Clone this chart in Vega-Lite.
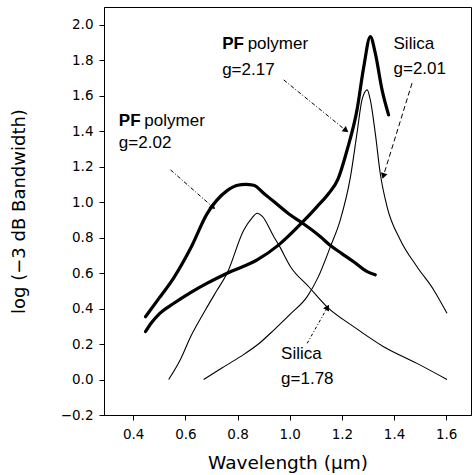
{
  "$schema": "https://vega.github.io/schema/vega-lite/v6.json",
  "autosize": {"type": "none"},
  "width": 367,
  "height": 408,
  "padding": {"left": 104, "top": 7, "right": 1, "bottom": 60},
  "background": "white",
  "config": {
    "view": {"stroke": "black", "strokeWidth": 1},
    "font": "DejaVu Sans",
    "axis": {
      "domainColor": "black", "tickColor": "black", "labelColor": "black", "titleColor": "black",
      "grid": false, "ticks": true, "domain": true,
      "labelFont": "DejaVu Sans", "labelFontSize": 13.5, "labelOverlap": false,
      "titleFont": "DejaVu Sans", "titleFontWeight": "normal"
    },
    "axisX": {"labelPadding": 7, "titleFontSize": 18.5, "titlePadding": 13},
    "axisY": {"labelPadding": 6, "titleFontSize": 18, "titlePadding": 32}
  },
  "datasets": {
    "curves": [
      {"fiber": "PF polymer", "series": "PF polymer g=2.02", "wl": 0.447, "bw": 0.354},
      {"fiber": "PF polymer", "series": "PF polymer g=2.02", "wl": 0.50, "bw": 0.46},
      {"fiber": "PF polymer", "series": "PF polymer g=2.02", "wl": 0.556, "bw": 0.575},
      {"fiber": "PF polymer", "series": "PF polymer g=2.02", "wl": 0.62, "bw": 0.74},
      {"fiber": "PF polymer", "series": "PF polymer g=2.02", "wl": 0.684, "bw": 0.937},
      {"fiber": "PF polymer", "series": "PF polymer g=2.02", "wl": 0.72, "bw": 1.01},
      {"fiber": "PF polymer", "series": "PF polymer g=2.02", "wl": 0.76, "bw": 1.065},
      {"fiber": "PF polymer", "series": "PF polymer g=2.02", "wl": 0.80, "bw": 1.095},
      {"fiber": "PF polymer", "series": "PF polymer g=2.02", "wl": 0.83, "bw": 1.10},
      {"fiber": "PF polymer", "series": "PF polymer g=2.02", "wl": 0.862, "bw": 1.095},
      {"fiber": "PF polymer", "series": "PF polymer g=2.02", "wl": 0.90, "bw": 1.05},
      {"fiber": "PF polymer", "series": "PF polymer g=2.02", "wl": 0.939, "bw": 1.003},
      {"fiber": "PF polymer", "series": "PF polymer g=2.02", "wl": 1.0, "bw": 0.93},
      {"fiber": "PF polymer", "series": "PF polymer g=2.02", "wl": 1.047, "bw": 0.884},
      {"fiber": "PF polymer", "series": "PF polymer g=2.02", "wl": 1.118, "bw": 0.805},
      {"fiber": "PF polymer", "series": "PF polymer g=2.02", "wl": 1.156, "bw": 0.755},
      {"fiber": "PF polymer", "series": "PF polymer g=2.02", "wl": 1.20, "bw": 0.71},
      {"fiber": "PF polymer", "series": "PF polymer g=2.02", "wl": 1.245, "bw": 0.664},
      {"fiber": "PF polymer", "series": "PF polymer g=2.02", "wl": 1.297, "bw": 0.608},
      {"fiber": "PF polymer", "series": "PF polymer g=2.02", "wl": 1.328, "bw": 0.59},
      {"fiber": "PF polymer", "series": "PF polymer g=2.17", "wl": 0.447, "bw": 0.27},
      {"fiber": "PF polymer", "series": "PF polymer g=2.17", "wl": 0.47, "bw": 0.32},
      {"fiber": "PF polymer", "series": "PF polymer g=2.17", "wl": 0.50, "bw": 0.37},
      {"fiber": "PF polymer", "series": "PF polymer g=2.17", "wl": 0.556, "bw": 0.43},
      {"fiber": "PF polymer", "series": "PF polymer g=2.17", "wl": 0.62, "bw": 0.49},
      {"fiber": "PF polymer", "series": "PF polymer g=2.17", "wl": 0.684, "bw": 0.543},
      {"fiber": "PF polymer", "series": "PF polymer g=2.17", "wl": 0.76, "bw": 0.599},
      {"fiber": "PF polymer", "series": "PF polymer g=2.17", "wl": 0.875, "bw": 0.674},
      {"fiber": "PF polymer", "series": "PF polymer g=2.17", "wl": 0.958, "bw": 0.759},
      {"fiber": "PF polymer", "series": "PF polymer g=2.17", "wl": 1.047, "bw": 0.884},
      {"fiber": "PF polymer", "series": "PF polymer g=2.17", "wl": 1.105, "bw": 0.975},
      {"fiber": "PF polymer", "series": "PF polymer g=2.17", "wl": 1.15, "bw": 1.05},
      {"fiber": "PF polymer", "series": "PF polymer g=2.17", "wl": 1.185, "bw": 1.13},
      {"fiber": "PF polymer", "series": "PF polymer g=2.17", "wl": 1.22, "bw": 1.294},
      {"fiber": "PF polymer", "series": "PF polymer g=2.17", "wl": 1.258, "bw": 1.52},
      {"fiber": "PF polymer", "series": "PF polymer g=2.17", "wl": 1.284, "bw": 1.764},
      {"fiber": "PF polymer", "series": "PF polymer g=2.17", "wl": 1.309, "bw": 1.933},
      {"fiber": "PF polymer", "series": "PF polymer g=2.17", "wl": 1.328, "bw": 1.84},
      {"fiber": "PF polymer", "series": "PF polymer g=2.17", "wl": 1.354, "bw": 1.633},
      {"fiber": "PF polymer", "series": "PF polymer g=2.17", "wl": 1.379, "bw": 1.492},
      {"fiber": "Silica", "series": "Silica g=1.78", "wl": 0.536, "bw": 0.0},
      {"fiber": "Silica", "series": "Silica g=1.78", "wl": 0.58, "bw": 0.11},
      {"fiber": "Silica", "series": "Silica g=1.78", "wl": 0.62, "bw": 0.241},
      {"fiber": "Silica", "series": "Silica g=1.78", "wl": 0.68, "bw": 0.40},
      {"fiber": "Silica", "series": "Silica g=1.78", "wl": 0.72, "bw": 0.50},
      {"fiber": "Silica", "series": "Silica g=1.78", "wl": 0.76, "bw": 0.599},
      {"fiber": "Silica", "series": "Silica g=1.78", "wl": 0.824, "bw": 0.843},
      {"fiber": "Silica", "series": "Silica g=1.78", "wl": 0.855, "bw": 0.91},
      {"fiber": "Silica", "series": "Silica g=1.78", "wl": 0.875, "bw": 0.937},
      {"fiber": "Silica", "series": "Silica g=1.78", "wl": 0.895, "bw": 0.92},
      {"fiber": "Silica", "series": "Silica g=1.78", "wl": 0.939, "bw": 0.805},
      {"fiber": "Silica", "series": "Silica g=1.78", "wl": 0.958, "bw": 0.759},
      {"fiber": "Silica", "series": "Silica g=1.78", "wl": 1.003, "bw": 0.636},
      {"fiber": "Silica", "series": "Silica g=1.78", "wl": 1.073, "bw": 0.523},
      {"fiber": "Silica", "series": "Silica g=1.78", "wl": 1.143, "bw": 0.41},
      {"fiber": "Silica", "series": "Silica g=1.78", "wl": 1.245, "bw": 0.298},
      {"fiber": "Silica", "series": "Silica g=1.78", "wl": 1.36, "bw": 0.185},
      {"fiber": "Silica", "series": "Silica g=1.78", "wl": 1.488, "bw": 0.091},
      {"fiber": "Silica", "series": "Silica g=1.78", "wl": 1.603, "bw": 0.0},
      {"fiber": "Silica", "series": "Silica g=2.01", "wl": 0.67, "bw": 0.0},
      {"fiber": "Silica", "series": "Silica g=2.01", "wl": 0.74, "bw": 0.065},
      {"fiber": "Silica", "series": "Silica g=2.01", "wl": 0.811, "bw": 0.129},
      {"fiber": "Silica", "series": "Silica g=2.01", "wl": 0.88, "bw": 0.20},
      {"fiber": "Silica", "series": "Silica g=2.01", "wl": 0.939, "bw": 0.279},
      {"fiber": "Silica", "series": "Silica g=2.01", "wl": 1.003, "bw": 0.37},
      {"fiber": "Silica", "series": "Silica g=2.01", "wl": 1.067, "bw": 0.467},
      {"fiber": "Silica", "series": "Silica g=2.01", "wl": 1.11, "bw": 0.58},
      {"fiber": "Silica", "series": "Silica g=2.01", "wl": 1.156, "bw": 0.749},
      {"fiber": "Silica", "series": "Silica g=2.01", "wl": 1.194, "bw": 0.90},
      {"fiber": "Silica", "series": "Silica g=2.01", "wl": 1.233, "bw": 1.144},
      {"fiber": "Silica", "series": "Silica g=2.01", "wl": 1.258, "bw": 1.389},
      {"fiber": "Silica", "series": "Silica g=2.01", "wl": 1.277, "bw": 1.576},
      {"fiber": "Silica", "series": "Silica g=2.01", "wl": 1.297, "bw": 1.633},
      {"fiber": "Silica", "series": "Silica g=2.01", "wl": 1.309, "bw": 1.576},
      {"fiber": "Silica", "series": "Silica g=2.01", "wl": 1.328, "bw": 1.389},
      {"fiber": "Silica", "series": "Silica g=2.01", "wl": 1.347, "bw": 1.163},
      {"fiber": "Silica", "series": "Silica g=2.01", "wl": 1.373, "bw": 0.975},
      {"fiber": "Silica", "series": "Silica g=2.01", "wl": 1.424, "bw": 0.787},
      {"fiber": "Silica", "series": "Silica g=2.01", "wl": 1.488, "bw": 0.636},
      {"fiber": "Silica", "series": "Silica g=2.01", "wl": 1.552, "bw": 0.505},
      {"fiber": "Silica", "series": "Silica g=2.01", "wl": 1.603, "bw": 0.373}
    ],
    "labels": [
      {"label": "g=2.02", "wl": 0.345, "bw": 1.307},
      {"label": "g=2.17", "wl": 0.741, "bw": 1.717},
      {"label": "Silica", "wl": 1.398, "bw": 1.862},
      {"label": "g=2.01", "wl": 1.398, "bw": 1.722},
      {"label": "Silica", "wl": 0.967, "bw": 0.115},
      {"label": "g=1.78", "wl": 0.967, "bw": -0.025}
    ],
    "pf": [
      {"wl": 0.345, "bw": 1.431},
      {"wl": 0.741, "bw": 1.862}
    ],
    "arrows": [
      {"arrow": "a1", "pt": 0, "wl": 0.543, "bw": 1.182},
      {"arrow": "a1", "pt": 1, "wl": 0.703, "bw": 0.975},
      {"arrow": "a2", "pt": 0, "wl": 0.977, "bw": 1.689},
      {"arrow": "a2", "pt": 1, "wl": 1.213, "bw": 1.407},
      {"arrow": "a3", "pt": 0, "wl": 1.469, "bw": 1.671},
      {"arrow": "a3", "pt": 1, "wl": 1.36, "bw": 1.152},
      {"arrow": "a4", "pt": 0, "wl": 1.067, "bw": 0.204},
      {"arrow": "a4", "pt": 1, "wl": 1.143, "bw": 0.402}
    ],
    "xmajor": [{"wl": 0.4}, {"wl": 0.6}, {"wl": 0.8}, {"wl": 1.0}, {"wl": 1.2}, {"wl": 1.4}, {"wl": 1.6}],
    "xminor": [{"wl": 0.5}, {"wl": 0.7}, {"wl": 0.9}, {"wl": 1.1}, {"wl": 1.3}, {"wl": 1.5}],
    "ymajor": [{"bw": -0.2}, {"bw": 0.0}, {"bw": 0.2}, {"bw": 0.4}, {"bw": 0.6}, {"bw": 0.8}, {"bw": 1.0}, {"bw": 1.2}, {"bw": 1.4}, {"bw": 1.6}, {"bw": 1.8}, {"bw": 2.0}],
    "yminor": [{"bw": -0.1}, {"bw": 0.1}, {"bw": 0.3}, {"bw": 0.5}, {"bw": 0.7}, {"bw": 0.9}, {"bw": 1.1}, {"bw": 1.3}, {"bw": 1.5}, {"bw": 1.7}, {"bw": 1.9}]
  },
  "encoding": {
    "x": {
      "field": "wl", "type": "quantitative",
      "scale": {"domain": [0.288, 1.695], "nice": false, "zero": false},
      "axis": {"title": "Wavelength (μm)", "values": [0.4, 0.6, 0.8, 1.0, 1.2, 1.4, 1.6], "format": ".1f", "tickSize": 5}
    },
    "y": {
      "field": "bw", "type": "quantitative",
      "scale": {"domain": [-0.2, 2.1], "nice": false, "zero": false},
      "axis": {"title": "log (−3 dB Bandwidth)", "values": [-0.2, 0.0, 0.2, 0.4, 0.6, 0.8, 1.0, 1.2, 1.4, 1.6, 1.8, 2.0], "format": ".1f", "tickSize": 5}
    }
  },
  "layer": [
    {
      "data": {"name": "xmajor"},
      "mark": {"type": "tick", "orient": "vertical", "color": "black", "opacity": 1, "size": 5, "thickness": 1, "yOffset": 2.5},
      "encoding": {"y": {"datum": -0.2, "type": "quantitative"}}
    },
    {
      "data": {"name": "xminor"},
      "mark": {"type": "tick", "orient": "vertical", "color": "black", "opacity": 1, "size": 3, "thickness": 1, "yOffset": 1.5},
      "encoding": {"y": {"datum": -0.2, "type": "quantitative"}}
    },
    {
      "data": {"name": "xmajor"},
      "mark": {"type": "tick", "orient": "vertical", "color": "black", "opacity": 1, "size": 5, "thickness": 1, "yOffset": 2.5},
      "encoding": {"y": {"datum": 2.1, "type": "quantitative"}}
    },
    {
      "data": {"name": "ymajor"},
      "mark": {"type": "tick", "orient": "horizontal", "color": "black", "opacity": 1, "size": 5, "thickness": 1, "xOffset": -2.5},
      "encoding": {"x": {"datum": 0.288, "type": "quantitative"}}
    },
    {
      "data": {"name": "yminor"},
      "mark": {"type": "tick", "orient": "horizontal", "color": "black", "opacity": 1, "size": 3, "thickness": 1, "xOffset": -1.5},
      "encoding": {"x": {"datum": 0.288, "type": "quantitative"}}
    },
    {
      "data": {"name": "ymajor"},
      "mark": {"type": "tick", "orient": "horizontal", "color": "black", "opacity": 1, "size": 5, "thickness": 1, "xOffset": -2.5},
      "encoding": {"x": {"datum": 1.695, "type": "quantitative"}}
    },
    {
      "data": {"name": "curves"},
      "transform": [{"filter": "datum.fiber == 'Silica'"}],
      "mark": {"type": "line", "color": "black", "strokeWidth": 1.1, "interpolate": "monotone"},
      "encoding": {"detail": {"field": "series"}}
    },
    {
      "data": {"name": "curves"},
      "transform": [{"filter": "datum.fiber == 'PF polymer'"}],
      "mark": {"type": "line", "color": "black", "strokeWidth": 3.2, "strokeCap": "round", "strokeJoin": "round", "interpolate": "monotone"},
      "encoding": {"detail": {"field": "series"}}
    },
    {
      "data": {"name": "arrows"},
      "mark": {"type": "line", "color": "black", "strokeWidth": 1},
      "encoding": {
        "order": {"field": "pt"},
        "strokeDash": {
          "field": "arrow", "type": "nominal", "legend": null,
          "scale": {"domain": ["a1", "a2", "a3", "a4"], "range": [[4, 2, 1, 2], [4, 2, 1, 2], [5, 3], [3, 2, 1, 2]]}
        }
      }
    },
    {
      "data": {"name": "arrows"},
      "transform": [{"filter": "datum.arrow == 'a1' && datum.pt == 1"}],
      "mark": {"type": "point", "shape": "triangle", "filled": true, "color": "black", "opacity": 1, "size": 45, "angle": 131}
    },
    {
      "data": {"name": "arrows"},
      "transform": [{"filter": "datum.arrow == 'a2' && datum.pt == 1"}],
      "mark": {"type": "point", "shape": "triangle", "filled": true, "color": "black", "opacity": 1, "size": 45, "angle": 129}
    },
    {
      "data": {"name": "arrows"},
      "transform": [{"filter": "datum.arrow == 'a3' && datum.pt == 1"}],
      "mark": {"type": "point", "shape": "triangle", "filled": true, "color": "black", "opacity": 1, "size": 45, "angle": 197}
    },
    {
      "data": {"name": "arrows"},
      "transform": [{"filter": "datum.arrow == 'a4' && datum.pt == 1"}],
      "mark": {"type": "point", "shape": "triangle", "filled": true, "color": "black", "opacity": 1, "size": 45, "angle": 30}
    },
    {
      "data": {"name": "labels"},
      "mark": {"type": "text", "align": "left", "baseline": "alphabetic", "font": "Liberation Sans", "fontSize": 17, "color": "black"},
      "encoding": {"text": {"field": "label"}}
    },
    {
      "data": {"name": "pf"},
      "mark": {"type": "text", "align": "left", "baseline": "alphabetic", "font": "Liberation Sans", "fontSize": 17, "fontWeight": "bold", "color": "black", "text": "PF"}
    },
    {
      "data": {"name": "pf"},
      "mark": {"type": "text", "align": "left", "baseline": "alphabetic", "font": "Liberation Sans", "fontSize": 17, "color": "black", "text": "polymer", "dx": 25.5}
    }
  ]
}
